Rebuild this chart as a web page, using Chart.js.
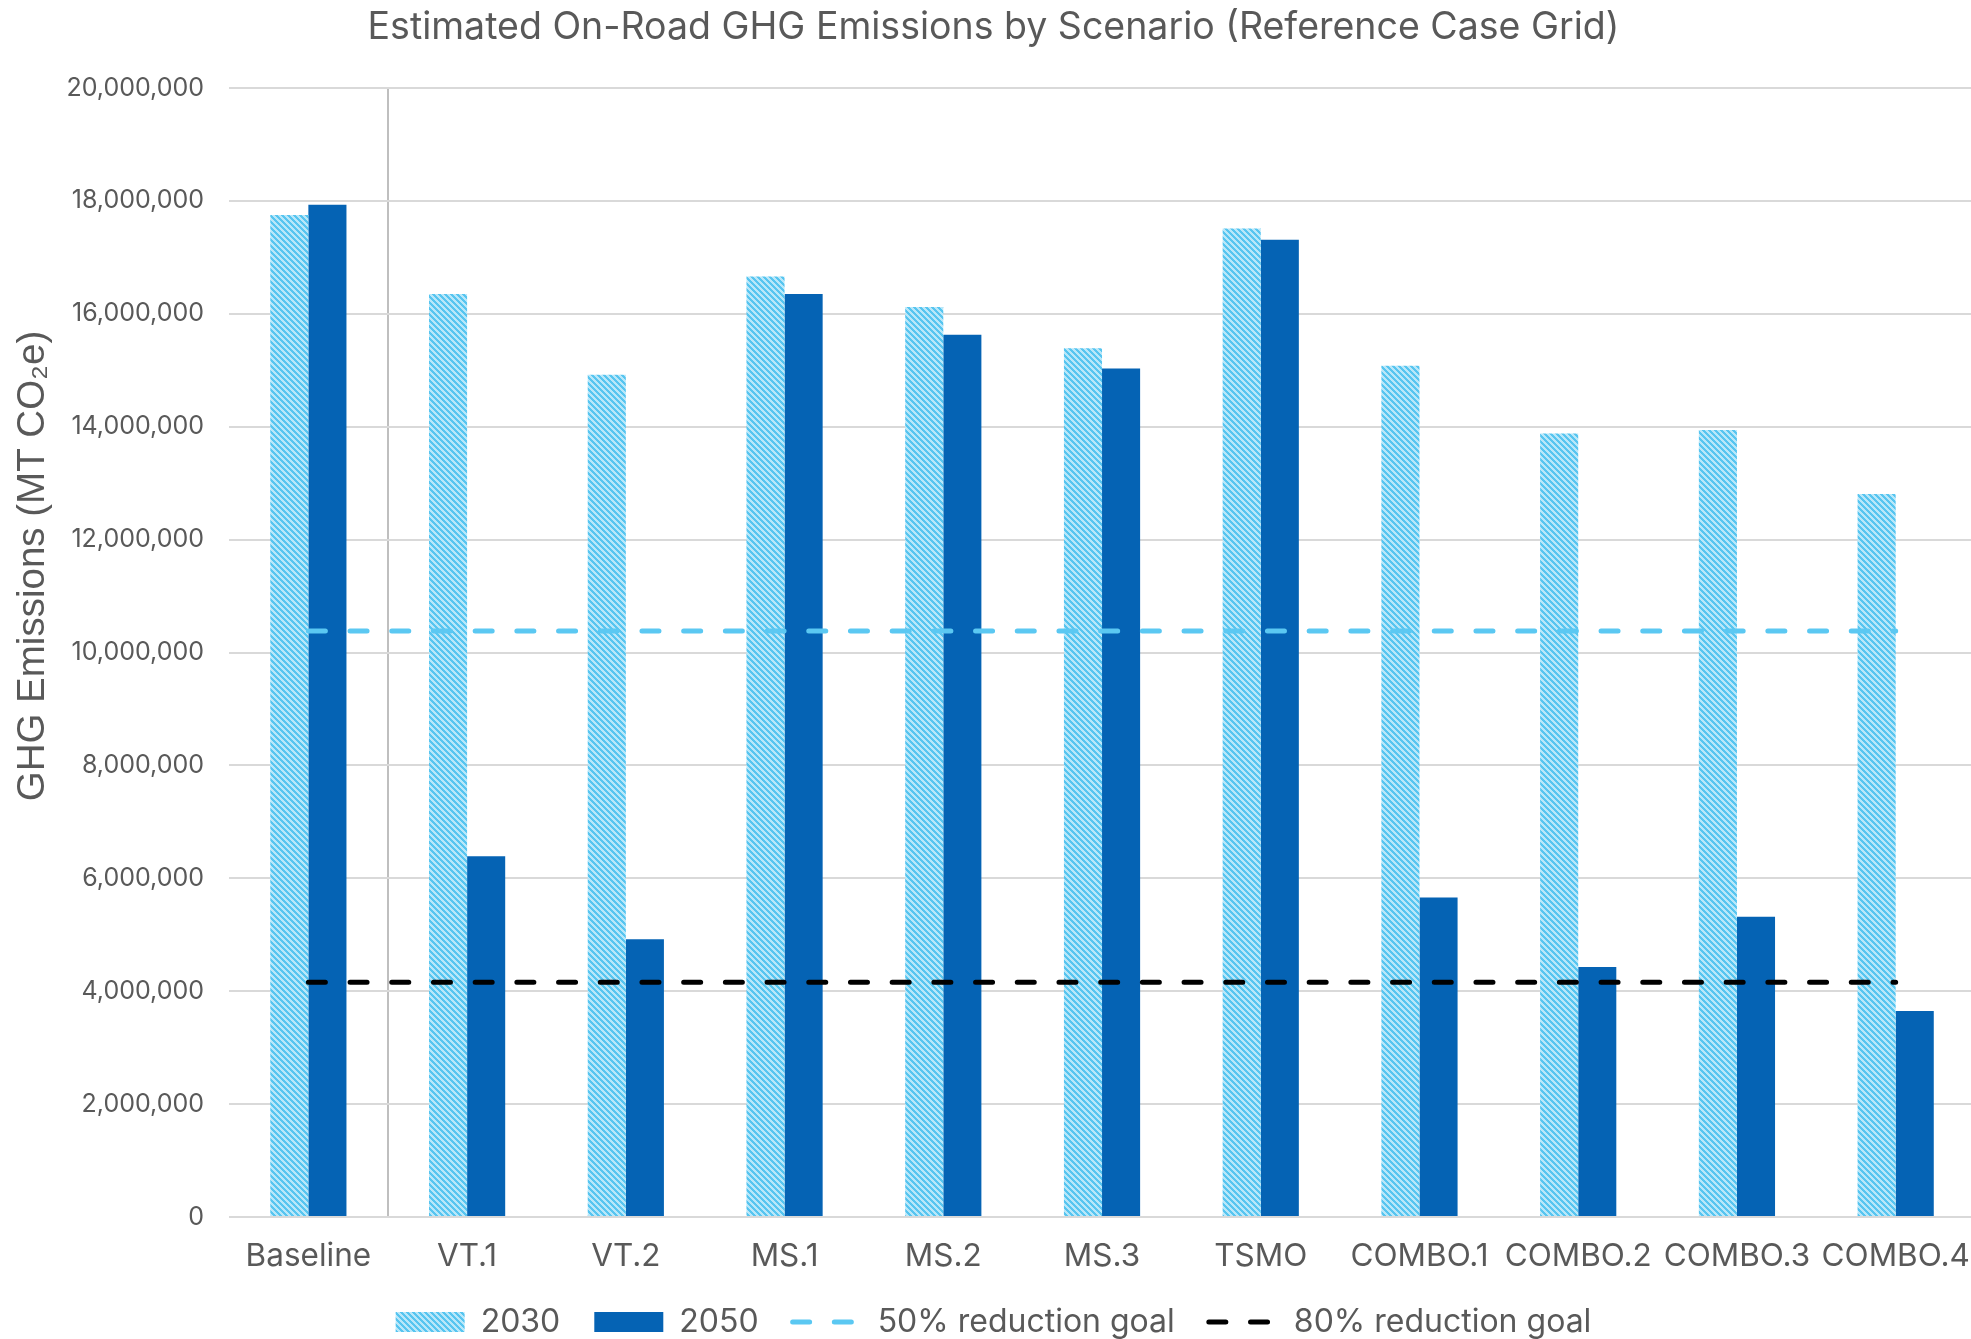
<!DOCTYPE html>
<html>
<head>
<meta charset="utf-8">
<script src="https://cdn.jsdelivr.net/npm/chart.js@4.4.0/dist/chart.umd.min.js"></script>
<style>
  html, body { margin: 0; padding: 0; background: #fff; overflow: hidden; }
  #wrap { width: 1991px; height: 1348px; }
</style>
</head>
<body>
<div id="wrap"><canvas id="grafico"></canvas></div>
<script>
const categories = ['Baseline', 'VT.1', 'VT.2', 'MS.1', 'MS.2', 'MS.3', 'TSMO', 'COMBO.1', 'COMBO.2', 'COMBO.3', 'COMBO.4'];
const emissions2030 = [17750000, 16350000, 14920000, 16660000, 16120000, 15390000, 17510000, 15080000, 13880000, 13940000, 12810000];
const emissions2050 = [17930000, 6390000, 4920000, 16350000, 15630000, 15030000, 17310000, 5660000, 4430000, 5320000, 3650000];
const goal50 = [10380000, 10380000, 10380000, 10380000, 10380000, 10380000, 10380000, 10380000, 10380000, 10380000, 10380000];
const goal80 = [4160000, 4160000, 4160000, 4160000, 4160000, 4160000, 4160000, 4160000, 4160000, 4160000, 4160000];
const yMin = 0;
const yMax = 20000000;
const yStep = 2000000;

const textColor = '#595959';

// diagonal hatch like the Excel "wide downward diagonal" fill
function hatchPattern() {
  const p = document.createElement('canvas');
  p.width = 6;
  p.height = 6;
  const g = p.getContext('2d');
  g.fillStyle = '#b8e7f9';
  g.fillRect(0, 0, 6, 6);
  g.fillStyle = '#57c5f0';
  for (let y = 0; y < 6; y++) {
    for (let k = 0; k < 3; k++) {
      g.fillRect((y + k) % 6, y, 1, 1);
    }
  }
  return g.createPattern(p, 'repeat');
}

const yTitle = {
  id: 'yTitle',
  afterDraw(chart) {
    const c = chart.ctx;
    c.save();
    c.translate(33, 566);
    c.rotate(-Math.PI / 2);
    c.font = '38.5px "Liberation Sans"';
    c.fillStyle = textColor;
    c.textAlign = 'center';
    c.textBaseline = 'middle';
    c.fillText('GHG Emissions (MT CO\u2082e)', 0, 0);
    c.restore();
  }
};

const ctx = document.getElementById('grafico');
new Chart(ctx, {
  type: 'bar',
  data: {
    labels: categories,
    datasets: [
      {
        label: '2030',
        data: emissions2030,
        backgroundColor: hatchPattern(),
        borderWidth: 0,
        pointStyle: 'rect',
        order: 2
      },
      {
        label: '2050',
        data: emissions2050,
        backgroundColor: '#0563b4',
        borderWidth: 0,
        pointStyle: 'rect',
        order: 2
      },
      {
        type: 'line',
        label: '50% reduction goal',
        data: goal50,
        borderColor: '#5bc8f2',
        borderWidth: 5,
        borderDash: [17, 24.7],
        borderCapStyle: 'round',
        pointRadius: 0,
        pointStyle: 'line',
        fill: false,
        order: 1
      },
      {
        type: 'line',
        label: '80% reduction goal',
        data: goal80,
        borderColor: '#000000',
        borderWidth: 5,
        borderDash: [17, 24.7],
        borderCapStyle: 'round',
        pointRadius: 0,
        pointStyle: 'line',
        fill: false,
        order: 1
      }
    ]
  },
  options: {
    responsive: true,
    maintainAspectRatio: false,
    animation: false,
    datasets: {
      bar: { categoryPercentage: 0.48, barPercentage: 1.0 }
    },
    layout: { padding: { left: 0, right: 4, top: 0, bottom: 0 } },
    plugins: {
      title: {
        display: true,
        text: 'Estimated On-Road GHG Emissions by Scenario (Reference Case Grid)',
        color: textColor,
        font: { family: 'Inter', size: 37.5, weight: 'normal' },
        padding: { top: 5.5, bottom: 37.5 }
      },
      legend: {
        position: 'bottom',
        labels: {
          usePointStyle: true,
          pointStyleWidth: 69,
          boxHeight: 20,
          padding: 34,
          color: textColor,
          font: { family: 'Inter', size: 32 },
          generateLabels(chart) {
            const items = Chart.defaults.plugins.legend.labels.generateLabels(chart);
            items.forEach(it => {
              const ds = chart.data.datasets[it.datasetIndex];
              if (ds.type === 'line') {
                it.pointStyle = 'line';
                it.lineDash = ds.borderDash;
                it.lineWidth = ds.borderWidth;
                it.lineCap = 'round';
                it.strokeStyle = ds.borderColor;
              } else {
                it.pointStyle = 'rect';
                it.fillStyle = ds.backgroundColor;
                it.lineWidth = 0;
              }
            });
            return items;
          },
          sort: (a, b) => a.datasetIndex - b.datasetIndex
        }
      },
      tooltip: { enabled: false }
    },
    scales: {
      x: {
        grid: {
          offset: true,
          color: c => (c.index === 1 ? '#bfbfbf' : 'rgba(0,0,0,0)'),
          lineWidth: 2,
          drawTicks: false
        },
        border: { display: false },
        ticks: {
          color: textColor,
          font: { family: 'Inter', size: 31.5 },
          padding: 21,
          maxRotation: 0,
          autoSkip: false
        },
        afterFit: s => { s.height = 55; }
      },
      y: {
        min: yMin,
        max: yMax,
        ticks: {
          stepSize: yStep,
          padding: 25,
          color: textColor,
          font: { family: 'Inter', size: 25 },
          callback: v => v.toLocaleString('en-US')
        },
        grid: { color: '#d9d9d9', lineWidth: 2, drawTicks: false },
        border: { display: false },
        afterFit: s => { s.width = 229; }
      }
    }
  },
  plugins: [yTitle]
});
</script>
</body>
</html>
